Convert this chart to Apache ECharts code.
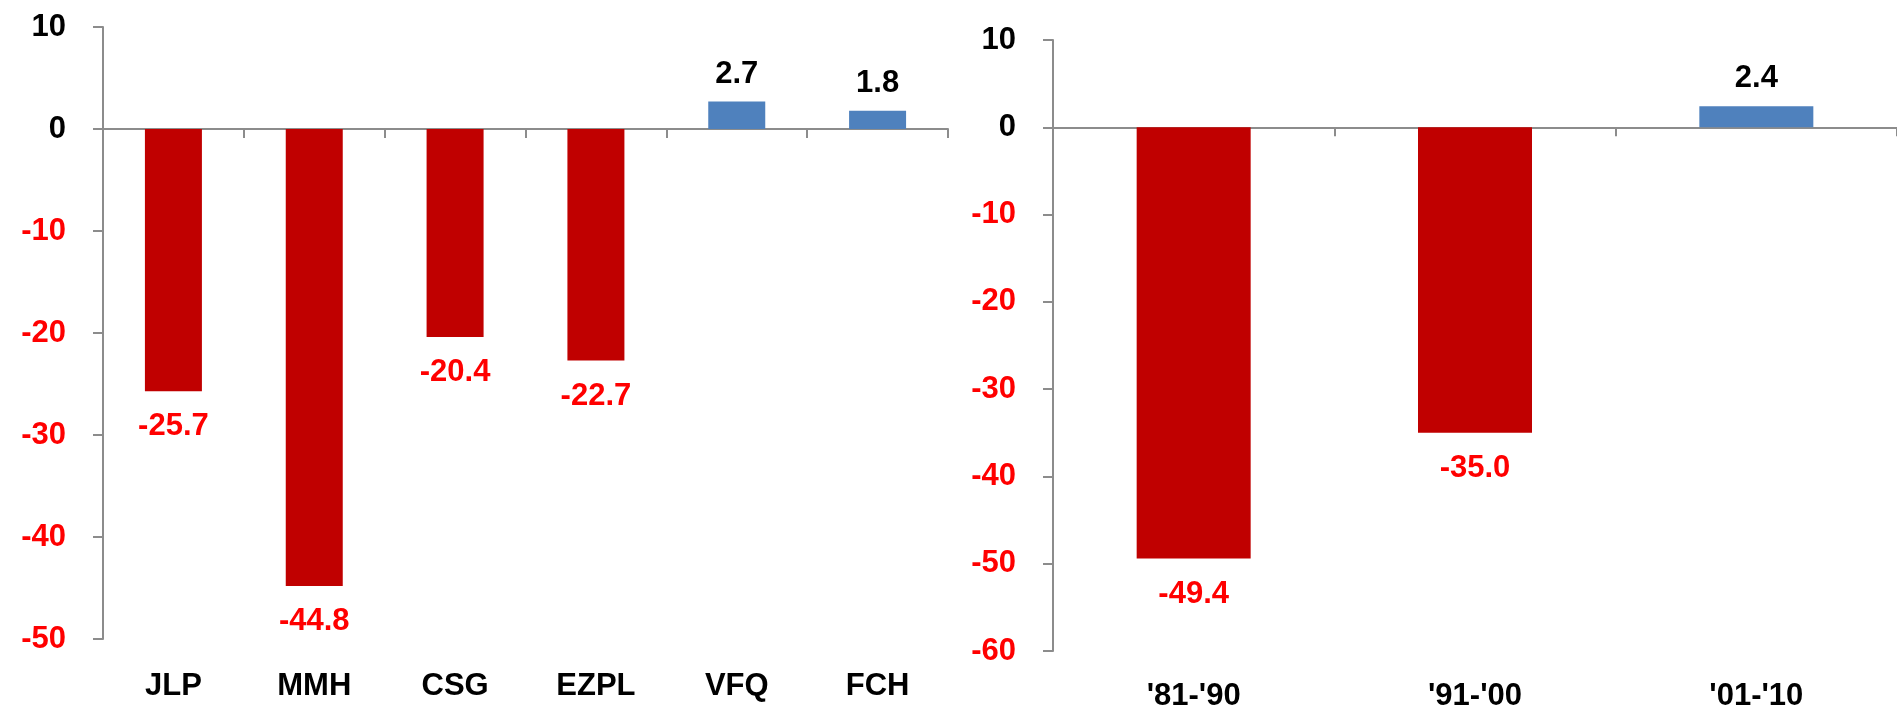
<!DOCTYPE html>
<html>
<head>
<meta charset="utf-8">
<script src="https://cdn.jsdelivr.net/npm/echarts@6/dist/echarts.min.js"></script>
<style>
  html, body { margin: 0; padding: 0; background: #fff; }
  #chart { width: 1897px; height: 712px; }
</style>
</head>
<body>
<div id="chart"></div>
<script>
// Left panel: companies
const companies = ["JLP", "MMH", "CSG", "EZPL", "VFQ", "FCH"];
const companyValues = [-25.7, -44.8, -20.4, -22.7, 2.7, 1.8];

// Right panel: decades
const decades = ["'81-'90", "'91-'00", "'01-'10"];
const decadeValues = [-49.4, -35.0, 2.4];

const RED_BAR = "#C00000";
const BLUE_BAR = "#4F81BD";
const RED_TEXT = "#FF0000";
const AXIS_GREY = "#8C8C8C";
const FONT = "'Liberation Sans', Arial, sans-serif";
const FS = 31;

// Bars colored by sign; labels sit outside the bar end.
function barData(values) {
  return values.map((v) => ({
    value: v,
    itemStyle: { color: v < 0 ? RED_BAR : BLUE_BAR },
    label: {
      position: v < 0 ? "bottom" : "top",
      distance: v < 0 ? 20 : 12,
      color: v < 0 ? RED_TEXT : "#000",
    },
  }));
}

const labelColor = (val) => (Number(val) < 0 ? RED_TEXT : "#000");

function yAxis(gridIndex, min, max, margin) {
  return {
    type: "value", gridIndex, min, max, interval: 10,
    splitLine: { show: false },
    axisLine: { show: true, lineStyle: { color: AXIS_GREY, width: 2 } },
    axisTick: { show: true, length: 10, lineStyle: { color: AXIS_GREY, width: 2 } },
    axisLabel: {
      margin, fontFamily: FONT, fontWeight: "bold", fontSize: FS, color: labelColor,
    },
  };
}

// Two category axes per panel: one on the zero line (line + ticks),
// one pinned to the bottom that only carries the names.
function xAxes(gridIndex, data, margin) {
  return [
    {
      type: "category", gridIndex, data,
      axisLine: { onZero: true, lineStyle: { color: AXIS_GREY, width: 2 } },
      axisTick: { show: true, inside: false, length: 9, lineStyle: { color: AXIS_GREY, width: 2 } },
      axisLabel: { show: false },
    },
    {
      type: "category", gridIndex, data, position: "bottom",
      axisLine: { show: false, onZero: false },
      axisTick: { show: false },
      axisLabel: { margin, fontFamily: FONT, fontWeight: "bold", fontSize: FS, color: "#000" },
    },
  ];
}

const chart = echarts.init(document.getElementById("chart"), null, { renderer: "canvas" });

chart.setOption({
  animation: false,
  backgroundColor: "#fff",
  grid: [
    { left: 103, right: 949, top: 27, bottom: 73 },
    { left: 1053, right: -3, top: 40, bottom: 60 },
  ],
  xAxis: [...xAxes(0, companies, 32), ...xAxes(1, decades, 30)],
  yAxis: [yAxis(0, -50, 10, 37), yAxis(1, -60, 10, 37)],
  series: [
    {
      type: "bar", xAxisIndex: 0, yAxisIndex: 0, barWidth: 57,
      data: barData(companyValues),
      label: {
        show: true, fontFamily: FONT, fontWeight: "bold", fontSize: FS,
        formatter: (p) => p.value.toFixed(1),
      },
    },
    {
      type: "bar", xAxisIndex: 2, yAxisIndex: 1, barWidth: 114,
      data: barData(decadeValues),
      label: {
        show: true, fontFamily: FONT, fontWeight: "bold", fontSize: FS,
        formatter: (p) => p.value.toFixed(1),
      },
    },
  ],
});
</script>
</body>
</html>
